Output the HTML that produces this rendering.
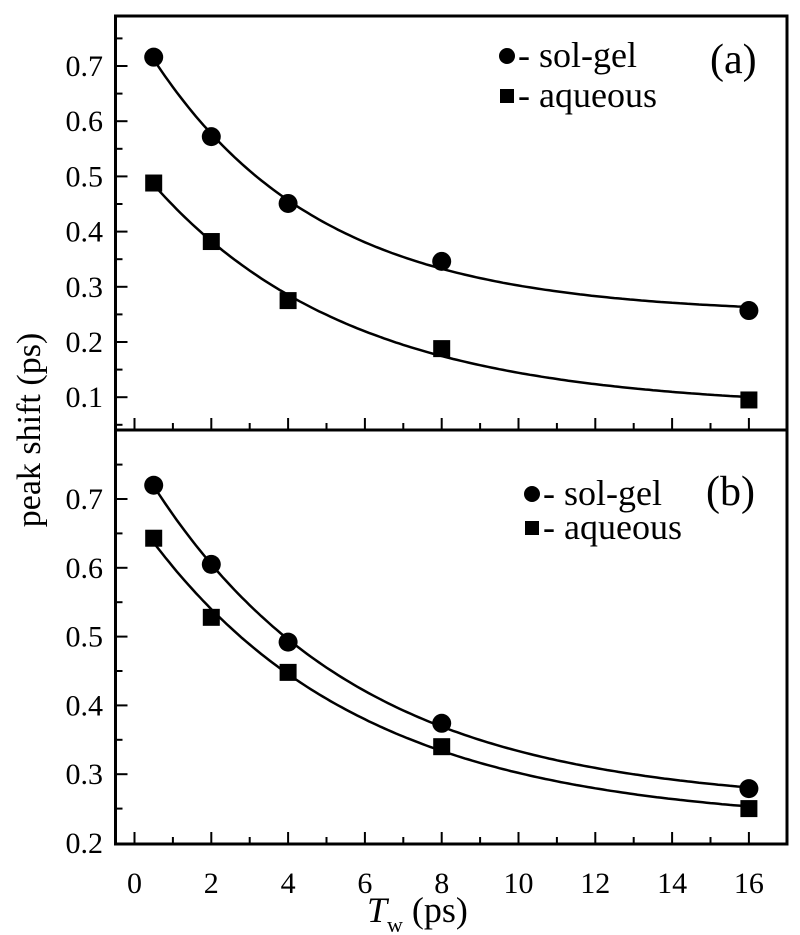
<!DOCTYPE html>
<html><head><meta charset="utf-8"><style>body{margin:0;background:#fff}svg{display:block}svg text{font-family:"Liberation Serif","Times New Roman",serif}</style></head>
<body>
<svg id="s" width="800" height="935" xmlns="http://www.w3.org/2000/svg"></svg>
<script>
const s=document.getElementById('s');let h='';
const L=115.5,R=787,T=16,M=430,B=844;
const X=x=>134.5+x*38.4;
const Ya=v=>66+(0.7-v)*552;
const Yb=v=>499+(0.7-v)*688;
h+=`<rect x="${L}" y="${T}" width="${R-L}" height="${B-T}" fill="none" stroke="#000" stroke-width="3"/>`;
h+=`<line x1="${L}" y1="${M}" x2="${R}" y2="${M}" stroke="#000" stroke-width="3"/>`;
for(let i=0;i<=16;i++){const len=i%2==0?12:7;
 h+=`<line x1="${X(i)}" y1="${M}" x2="${X(i)}" y2="${M-len}" stroke="#000" stroke-width="2"/>`;
 h+=`<line x1="${X(i)}" y1="${B}" x2="${X(i)}" y2="${B-len}" stroke="#000" stroke-width="2"/>`;
 if(i%2==0)h+=`<text x="${X(i)}" y="893" font-size="30" text-anchor="middle">${i}</text>`;}
for(let k=1;k<=15;k++){const v=k*0.05;const y=Ya(v);if(y<T+3||y>M-3)continue;const maj=k%2==0;
 h+=`<line x1="${L}" y1="${y}" x2="${L+(maj?12:7)}" y2="${y}" stroke="#000" stroke-width="2"/>`;
 if(maj)h+=`<text x="103" y="${y+10}" font-size="30" text-anchor="end">${v.toFixed(1)}</text>`;}
for(let k=4;k<=16;k++){const v=k*0.05;const y=Yb(v);if(y<M+3||y>B+1)continue;const maj=k%2==0;
 if(y<B-2)h+=`<line x1="${L}" y1="${y}" x2="${L+(maj?12:7)}" y2="${y}" stroke="#000" stroke-width="2"/>`;
 if(maj)h+=`<text x="103" y="${y+10}" font-size="30" text-anchor="end">${v.toFixed(1)}</text>`;}
const xs=[0.5,2,4,8,16];
const sets=[
 [Ya,[0.716,0.572,0.451,0.346,0.257],'c'],
 [Ya,[0.488,0.382,0.275,0.188,0.095],'s'],
 [Yb,[0.72,0.605,0.492,0.374,0.279],'c'],
 [Yb,[0.643,0.528,0.448,0.340,0.250],'s']];
function fit(ys){
 let best=null;
 for(let t=1;t<=12;t+=0.05){const e=xs.map(x=>Math.exp(-x/t));
  const n=5,se=e.reduce((a,b)=>a+b),sy=ys.reduce((a,b)=>a+b),
  see=e.reduce((a,b)=>a+b*b,0),sey=e.reduce((a,b,i)=>a+b*ys[i],0);
  const A=(n*sey-se*sy)/(n*see-se*se),C=(sy-A*se)/n;
  const err=ys.reduce((a,y,i)=>a+(y-A*e[i]-C)**2,0);
  if(!best||err<best.err)best={t,A,C,err};}
 return best;}
for(const [Y,ys,m] of sets){
 const f=fit(ys);let d='';
 for(let x=0.5;x<=16.001;x+=0.1){d+=(d?'L':'M')+X(x).toFixed(1)+','+Y(f.A*Math.exp(-x/f.t)+f.C).toFixed(1);}
 h+=`<path d="${d}" fill="none" stroke="#000" stroke-width="2.5"/>`;
 xs.forEach((x,i)=>{const cx=X(x),cy=Y(ys[i]);
  h+=m=='c'?`<circle cx="${cx}" cy="${cy}" r="9.5" fill="#000"/>`:`<rect x="${cx-8.5}" y="${cy-8.5}" width="17" height="17" fill="#000"/>`;});}
h+=`<circle cx="507" cy="56" r="8"/><text x="518" y="67" font-size="36">- sol-gel</text>`;
h+=`<rect x="500" y="89" width="14" height="14"/><text x="518" y="107" font-size="36">- aqueous</text>`;
h+=`<text x="710" y="73" font-size="42">(a)</text>`;
h+=`<circle cx="532" cy="494" r="8"/><text x="543" y="505" font-size="36">- sol-gel</text>`;
h+=`<rect x="525" y="521" width="14" height="14"/><text x="543" y="539" font-size="36">- aqueous</text>`;
h+=`<text x="706" y="505" font-size="42">(b)</text>`;
h+=`<text transform="translate(40,430) rotate(-90)" font-size="34" text-anchor="middle">peak shift (ps)</text>`;
h+=`<text x="367" y="922" font-size="36"><tspan font-style="italic">T</tspan><tspan font-size="22" dy="10">w</tspan><tspan dy="-10"> (ps)</tspan></text>`;
s.innerHTML=h;
</script>
</body></html>
